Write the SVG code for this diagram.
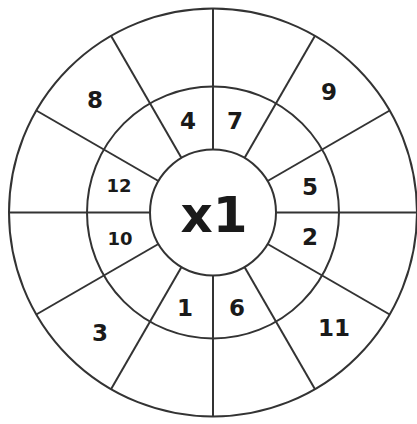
<svg xmlns="http://www.w3.org/2000/svg" width="417" height="424" viewBox="0 0 417 424">
<style>
.ln{stroke:#333;stroke-width:2;fill:none}
.t{font-family:"DejaVu Sans",sans-serif;font-weight:bold;fill:#1a1a1a;text-anchor:middle}
.b{font-size:23px}
.s{font-size:18px}
</style>
<rect width="417" height="424" fill="#fff"/>
<g id="rings" class="ln">
<circle cx="213" cy="212.5" r="204"/>
<circle cx="213" cy="212.5" r="126"/>
<circle cx="213" cy="212.5" r="63"/>
</g>
<g id="connectors" class="ln">
<line x1="213" y1="149.5" x2="213" y2="8.5"/>
<line x1="244.5" y1="157.9" x2="315" y2="35.8"/>
<line x1="267.6" y1="181" x2="389.7" y2="110.5"/>
<line x1="276" y1="212.5" x2="417" y2="212.5"/>
<line x1="267.6" y1="244" x2="389.7" y2="314.5"/>
<line x1="244.5" y1="267.1" x2="315" y2="389.2"/>
<line x1="213" y1="275.5" x2="213" y2="416.5"/>
<line x1="181.5" y1="267.1" x2="111" y2="389.2"/>
<line x1="158.4" y1="244" x2="36.3" y2="314.5"/>
<line x1="150" y1="212.5" x2="9" y2="212.5"/>
<line x1="158.4" y1="181" x2="36.3" y2="110.5"/>
<line x1="181.5" y1="157.9" x2="111" y2="35.8"/>
</g>
<g id="center"><text class="t" x="214" y="232" font-size="50">x1</text></g>
<g id="n8"><text class="t b" x="95" y="108">8</text></g>
<g id="n9"><text class="t b" x="329" y="100">9</text></g>
<g id="n4"><text class="t b" x="188" y="129">4</text></g>
<g id="n7"><text class="t b" x="235" y="129">7</text></g>
<g id="n12"><text class="t s" x="119" y="192">12</text></g>
<g id="n10"><text class="t s" x="120" y="245">10</text></g>
<g id="n5"><text class="t b" x="310" y="195">5</text></g>
<g id="n2"><text class="t b" x="310" y="245">2</text></g>
<g id="n1"><text class="t b" x="185" y="316">1</text></g>
<g id="n6"><text class="t b" x="237" y="316">6</text></g>
<g id="n3"><text class="t b" x="100" y="341">3</text></g>
<g id="n11"><text class="t b" x="334" y="336">11</text></g>
</svg>
